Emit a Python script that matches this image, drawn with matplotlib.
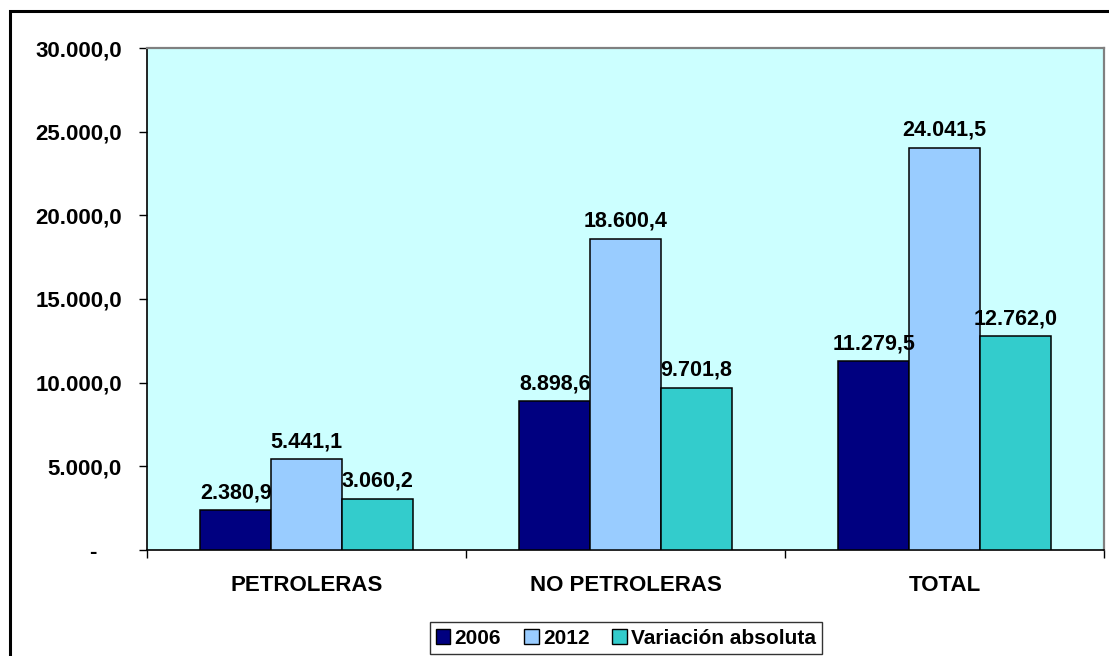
import matplotlib
matplotlib.use("Agg")
import matplotlib.pyplot as plt
from matplotlib.patches import Rectangle, Patch
import numpy as np

plt.rcParams['font.family'] = ['Liberation Sans', 'DejaVu Sans']
plt.rcParams['font.weight'] = 'bold'

categories = ["PETROLERAS", "NO PETROLERAS", "TOTAL"]
series_names = ["2006", "2012", "Variación absoluta"]
values_2006 = [2380.9, 8898.6, 11279.5]
values_2012 = [5441.1, 18600.4, 24041.5]
values_var = [3060.2, 9701.8, 12762.0]
y_ticks = [0, 5000, 10000, 15000, 20000, 25000, 30000]

colors = ["#000080", "#99CCFF", "#33CCCC"]


def fmt_es(v, dec=1):
    s = f"{v:,.{dec}f}"
    return s.replace(",", "X").replace(".", ",").replace("X", ".")


W, H = 1109, 656
fig = plt.figure(figsize=(W / 100, H / 100), dpi=100)
ax = fig.add_axes([147 / W, 1 - 550 / H, (1104 - 147) / W, (550 - 48) / H])
ax.set_facecolor("#CCFFFF")

x = np.arange(len(categories))
bw = 0.222
series = [values_2006, values_2012, values_var]
for i, (vals, col) in enumerate(zip(series, colors)):
    bars = ax.bar(x + (i - 1) * bw, vals, width=bw, color=col,
                  edgecolor="black", linewidth=1.1, zorder=3)
    for b, v in zip(bars, vals):
        ax.annotate(fmt_es(v), (b.get_x() + b.get_width() / 2, v),
                    xytext=(0, 5), textcoords="offset points",
                    ha="center", va="bottom", fontsize=15.5,
                    fontweight="bold", zorder=6)

ax.set_xlim(-0.5, 2.5)
ax.set_ylim(0, 30000)

ax.set_yticks(y_ticks)
ax.set_yticklabels(["-    "] + [fmt_es(v) for v in y_ticks[1:]])
ax.tick_params(axis="y", direction="out", length=6, width=1, pad=12,
               labelsize=16)

# category labels centred, tick marks on the category boundaries
ax.set_xticks([-0.5, 0.5, 1.5, 2.5])
ax.set_xticklabels([])
ax.set_xticks(x, minor=True)
ax.set_xticklabels(categories, minor=True)
ax.tick_params(axis="x", which="major", direction="out", length=6, width=1)
ax.tick_params(axis="x", which="minor", length=0, pad=18, labelsize=16)

for side in ("left", "bottom"):
    ax.spines[side].set_color("black")
    ax.spines[side].set_linewidth(1.2)
for side in ("top", "right"):
    ax.spines[side].set_color("#808080")
    ax.spines[side].set_linewidth(1.6)

handles = [Patch(facecolor=c, edgecolor="black", linewidth=1.0) for c in colors]
leg = fig.legend(handles, series_names, loc="center",
                 bbox_to_anchor=(626 / W, 1 - 638 / H),
                 bbox_transform=fig.transFigure, ncol=3, fontsize=15,
                 frameon=True, fancybox=False, edgecolor="black",
                 handlelength=0.7, handleheight=0.7, handletextpad=0.2,
                 columnspacing=1.1, borderpad=0.3)
leg.get_frame().set_linewidth(1.0)
for t in leg.get_texts():
    t.set_fontweight("bold")

# outer chart frame
fig.patches.append(Rectangle((10 / W, -0.1), 1.2, 1 - 11 / H + 0.1,
                             transform=fig.transFigure, fill=False,
                             edgecolor="black", linewidth=2.2))

fig.savefig("out.png", dpi=100)
